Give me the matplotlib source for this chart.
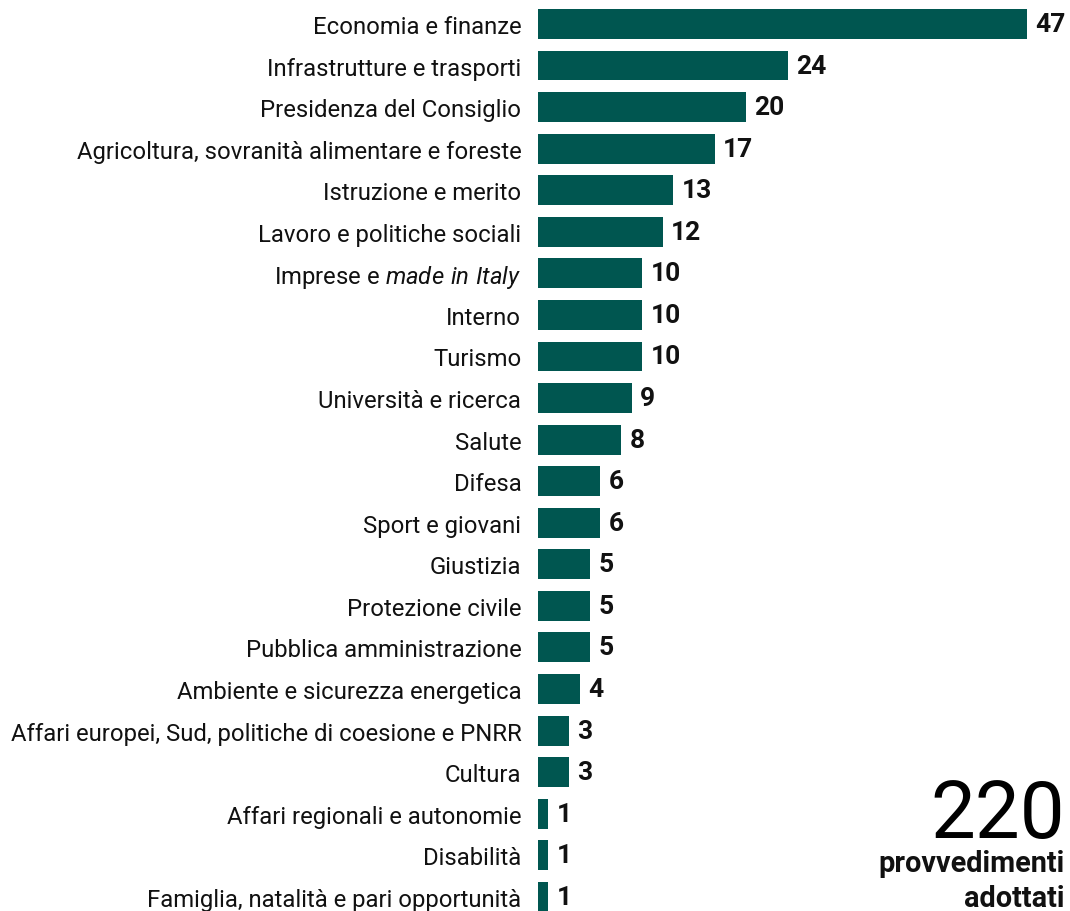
import matplotlib
matplotlib.use("Agg")
import matplotlib.pyplot as plt

plt.rcParams['font.family'] = ['Roboto', 'DejaVu Sans']
plt.rcParams['mathtext.fontset'] = 'custom'
plt.rcParams['mathtext.rm'] = 'Roboto'
plt.rcParams['mathtext.it'] = 'Roboto:italic'

ministeri = [
    "Economia e finanze",
    "Infrastrutture e trasporti",
    "Presidenza del Consiglio",
    "Agricoltura, sovranità alimentare e foreste",
    "Istruzione e merito",
    "Lavoro e politiche sociali",
    r"Imprese e $\mathit{made\ in\ Italy}$",
    "Interno",
    "Turismo",
    "Università e ricerca",
    "Salute",
    "Difesa",
    "Sport e giovani",
    "Giustizia",
    "Protezione civile",
    "Pubblica amministrazione",
    "Ambiente e sicurezza energetica",
    "Affari europei, Sud, politiche di coesione e PNRR",
    "Cultura",
    "Affari regionali e autonomie",
    "Disabilità",
    "Famiglia, natalità e pari opportunità",
]
provvedimenti = [47, 24, 20, 17, 13, 12, 10, 10, 10, 9, 8, 6, 6, 5, 5, 5, 4, 3, 3, 1, 1, 1]
totale = 220

colore = "#005650"

fig = plt.figure(figsize=(10.7, 9.12), dpi=100)
ax = fig.add_axes([0.5028, 0, 0.4972, 1])

pos = list(range(len(ministeri)))
ax.barh(pos, provvedimenti, height=0.72, color=colore)
ax.set_xlim(0, 51.15)
ax.set_ylim(21.34, -0.60)

ax.set_yticks(pos)
ax.set_yticklabels(ministeri, fontsize=17.2, color="#111111")
ax.tick_params(axis='y', length=0, pad=12)
ax.set_xticks([])
for s in ax.spines.values():
    s.set_visible(False)

for p, v in zip(pos, provvedimenti):
    ax.annotate(str(v), (v, p), xytext=(6, 0), textcoords="offset points",
                va="center", ha="left", fontsize=19, fontweight="bold", color="#111111")

fig.text(0.9953, 0.081, str(totale), ha="right", va="baseline", fontsize=57.5, color="black")
fig.text(0.9953, 0.044, "provvedimenti", ha="right", va="baseline", fontsize=20.8,
         fontweight="bold", color="#111111")
fig.text(0.9953, 0.005, "adottati", ha="right", va="baseline", fontsize=20.8,
         fontweight="bold", color="#111111")

fig.savefig("out.png", dpi=100)
